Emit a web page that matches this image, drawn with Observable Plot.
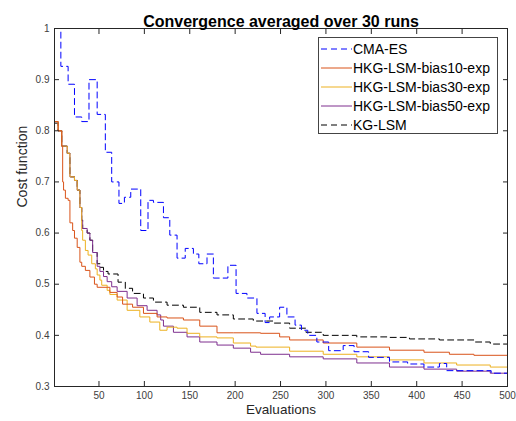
<!DOCTYPE html>
<html>
<head>
<meta charset="utf-8">
<script src="https://cdn.jsdelivr.net/npm/d3@7"></script>
<script src="https://cdn.jsdelivr.net/npm/@observablehq/plot@0.6"></script>
<style>
  html, body { margin: 0; padding: 0; background: #fff; }
  #wrap { position: relative; width: 516px; height: 421px; font-family: "Liberation Sans", Arial, sans-serif; }
  #legend { position: absolute; left: 318px; top: 37px; width: 180px; height: 97px; border: 1px solid #444; background: #fff; box-sizing: border-box; }
  .item { position: absolute; left: 2px; height: 19px; display: flex; align-items: center; font-size: 14px; color: #000; white-space: nowrap; }
  .item svg { margin-right: 1px; }
</style>
</head>
<body>
<div id="wrap"><div id="chart"></div><div id="legend"></div></div>
<script>
const title = "Convergence averaged over 30 runs";
const xLabel = "Evaluations";
const yLabel = "Cost function";
const xTicks = [50, 100, 150, 200, 250, 300, 350, 400, 450, 500];
const yTicks = [0.3, 0.4, 0.5, 0.6, 0.7, 0.8, 0.9, 1];

const seriesNames = ["CMA-ES", "HKG-LSM-bias10-exp", "HKG-LSM-bias30-exp", "HKG-LSM-bias50-exp", "KG-LSM"];
const seriesColors = ["#0000FF", "#D95319", "#EDB120", "#7E2F8E", "#000000"];
const seriesDashed = [true, false, false, false, true];

const cmaes = [[1,1.0],[8,0.926],[16,0.891],[23,0.827],[31,0.818],[39,0.90],[48,0.832],[57,0.758],[64,0.70],[72,0.658],[78,0.67],[85,0.686],[96,0.605],[104,0.664],[110,0.66],[121,0.63],[128,0.596],[136,0.551],[145,0.57],[154,0.559],[160,0.54],[169,0.559],[176,0.512],[192,0.537],[201,0.482],[213,0.473],[224,0.443],[233,0.425],[238,0.436],[249,0.455],[257,0.436],[266,0.42],[273,0.41],[280,0.40],[290,0.387],[303,0.37],[319,0.38],[331,0.368],[347,0.357],[370,0.348],[390,0.344],[408,0.338],[425,0.345],[433,0.331],[482,0.326],[500,0.325]];

const bias10 = [[1,0.818],[5,0.80],[9,0.77],[10,0.70],[11,0.684],[13,0.668],[16,0.664],[18,0.62],[21,0.605],[23,0.59],[26,0.572],[29,0.543],[31,0.535],[35,0.527],[40,0.514],[45,0.50],[48,0.494],[59,0.494],[62,0.484],[70,0.475],[76,0.461],[87,0.455],[99,0.443],[114,0.436],[125,0.434],[143,0.43],[161,0.418],[180,0.405],[198,0.405],[228,0.404],[249,0.397],[260,0.391],[297,0.385],[334,0.377],[370,0.371],[408,0.367],[436,0.363],[463,0.361],[500,0.356]];

const bias30 = [[1,0.818],[5,0.80],[9,0.77],[15,0.756],[18,0.71],[23,0.703],[26,0.684],[29,0.65],[31,0.605],[32,0.586],[35,0.566],[38,0.557],[42,0.54],[46,0.53],[48,0.518],[51,0.508],[53,0.498],[59,0.488],[62,0.48],[70,0.469],[81,0.449],[95,0.436],[106,0.426],[117,0.41],[125,0.416],[136,0.414],[147,0.404],[161,0.397],[180,0.395],[198,0.385],[217,0.379],[223,0.377],[260,0.369],[297,0.363],[334,0.358],[370,0.352],[408,0.346],[444,0.342],[481,0.338],[500,0.334]];

const bias50 = [[1,0.818],[5,0.80],[9,0.77],[15,0.756],[18,0.71],[23,0.703],[26,0.684],[29,0.65],[31,0.625],[32,0.609],[37,0.60],[40,0.586],[43,0.562],[48,0.535],[51,0.525],[55,0.515],[59,0.505],[64,0.495],[70,0.486],[81,0.473],[92,0.458],[103,0.449],[114,0.44],[118,0.43],[121,0.418],[132,0.406],[147,0.397],[161,0.387],[180,0.381],[198,0.375],[217,0.367],[228,0.363],[260,0.358],[297,0.354],[334,0.346],[370,0.338],[408,0.334],[444,0.33],[481,0.326],[500,0.324]];

const kglsm = [[1,0.815],[5,0.80],[9,0.77],[15,0.756],[18,0.71],[23,0.703],[26,0.684],[29,0.65],[31,0.625],[32,0.609],[37,0.60],[40,0.586],[43,0.562],[48,0.54],[51,0.533],[55,0.525],[60,0.52],[71,0.504],[79,0.492],[87,0.482],[99,0.473],[110,0.465],[125,0.459],[143,0.455],[161,0.445],[180,0.44],[198,0.432],[220,0.428],[242,0.424],[260,0.414],[278,0.406],[297,0.40],[334,0.397],[370,0.396],[392,0.393],[425,0.391],[463,0.387],[481,0.383],[500,0.38]];

const seriesData = [cmaes, bias10, bias30, bias50, kglsm];
const drawOrder = [4, 3, 2, 1, 0];

const lineMarks = drawOrder.map(i => Plot.line(seriesData[i], {
  x: d => d[0], y: d => d[1], curve: "step-after",
  stroke: seriesColors[i], strokeWidth: 1,
  strokeDasharray: seriesDashed[i] ? "6,4" : null
}));

const axisColor = "#262626";
const chart = Plot.plot({
  width: 516, height: 421,
  marginLeft: 54, marginRight: 9, marginTop: 28, marginBottom: 35,
  style: { fontFamily: "Liberation Sans, Arial, sans-serif", fontSize: "10px", color: axisColor, background: "#fff" },
  x: { domain: [1, 500] },
  y: { domain: [0.3, 1] },
  marks: [
    ...lineMarks,
    Plot.frame({ stroke: axisColor, strokeWidth: 1 }),
    Plot.axisX(xTicks, { anchor: "bottom", tickSize: 0, tickPadding: 5, label: null, fill: "#404040" }),
    Plot.axisX(xTicks, { anchor: "bottom", tickSize: -5, tickFormat: () => "", label: null }),
    Plot.axisX(xTicks, { anchor: "top", tickSize: -5, tickFormat: () => "", label: null }),
    Plot.axisY(yTicks, { anchor: "left", tickSize: 0, tickPadding: 5, label: null, fill: "#404040", tickFormat: d => String(d) }),
    Plot.axisY(yTicks, { anchor: "left", tickSize: -5, tickFormat: () => "", label: null }),
    Plot.axisY(yTicks, { anchor: "right", tickSize: -5, tickFormat: () => "", label: null }),
    Plot.text([title], { frameAnchor: "top", dy: -13, fontWeight: "bold", fontSize: 16, fill: "#000" }),
    Plot.text([xLabel], { frameAnchor: "bottom", dy: 27, fontSize: 13.5, fill: "#262626" }),
    Plot.text([yLabel], { frameAnchor: "left", dx: -32, rotate: -90, fontSize: 14, fill: "#262626" })
  ]
});
document.getElementById("chart").appendChild(chart);

const legend = document.getElementById("legend");
seriesNames.forEach((name, i) => {
  const div = document.createElement("div");
  div.className = "item";
  div.style.top = (1 + i * 19) + "px";
  const dash = seriesDashed[i] ? 'stroke-dasharray="6,4"' : "";
  div.innerHTML = `<svg width="31" height="4"><line x1="0" y1="2" x2="31" y2="2" stroke="${seriesColors[i]}" stroke-width="1" ${dash}/></svg><span>${name}</span>`;
  legend.appendChild(div);
});
</script>
</body>
</html>
